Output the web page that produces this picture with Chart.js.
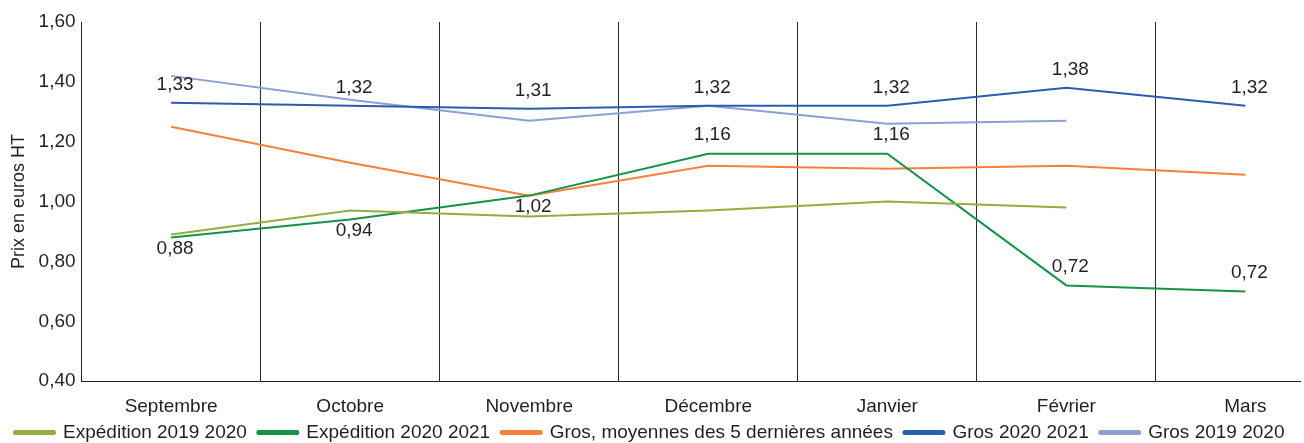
<!DOCTYPE html>
<html>
<head>
<meta charset="utf-8">
<script src="https://cdn.jsdelivr.net/npm/chart.js@4/dist/chart.umd.min.js"></script>
<style>
  html, body { margin: 0; padding: 0; background: #fff; overflow: hidden; }
  #wrap { position: relative; width: 1304px; height: 473px; }
</style>
</head>
<body>
<div id="wrap"><canvas id="prixChart"></canvas></div>
<script>
// mois de la campagne
var mois = ['Septembre', 'Octobre', 'Novembre', 'Décembre', 'Janvier', 'Février', 'Mars'];

// prix en euros HT
var expedition1920 = [0.89, 0.97, 0.95, 0.97, 1.00, 0.98, null];
var expedition2021 = [0.88, 0.94, 1.02, 1.16, 1.16, 0.72, 0.70];
var grosMoy5ans   = [1.25, 1.13, 1.02, 1.12, 1.11, 1.12, 1.09];
var gros2021      = [1.33, 1.32, 1.31, 1.32, 1.32, 1.38, 1.32];
var gros1920      = [1.42, 1.34, 1.27, 1.32, 1.26, 1.27, null];

// étiquettes affichées sur le graphe
var etiquettesExp2021  = ['0,88', '0,94', '1,02', '1,16', '1,16', '0,72', '0,72'];
var etiquettesGros2021 = ['1,33', '1,32', '1,31', '1,32', '1,32', '1,38', '1,32'];

var yTicks = [0.4, 0.6, 0.8, 1.0, 1.2, 1.4, 1.6];

var FONT = '"Liberation Sans", Arial, sans-serif';
var TXT = '#231f20';

function pts(arr) {
  return arr.map(function(v, i) { return { x: i, y: v }; });
}

function serie(label, arr, color, etiquettes) {
  return {
    label: label,
    data: pts(arr),
    borderColor: color,
    backgroundColor: color,
    borderWidth: 2,
    pointRadius: 0,
    tension: 0,
    etiquettes: etiquettes || null
  };
}

// placement des étiquettes de l'expédition 2020 2021 (dessous pour les 3 premiers mois)
var dessousExp = [true, true, true, false, false, false, false];

var etiquettesPlugin = {
  id: 'etiquettes',
  afterDatasetsDraw: function(chart) {
    var ctx = chart.ctx;
    ctx.save();
    ctx.font = '19px ' + FONT;
    ctx.fillStyle = TXT;
    ctx.textAlign = 'center';
    chart.data.datasets.forEach(function(ds, di) {
      if (!ds.etiquettes) return;
      var meta = chart.getDatasetMeta(di);
      meta.data.forEach(function(p, i) {
        var txt = ds.etiquettes[i];
        if (!txt) return;
        var dessous = ds.label === 'Expédition 2020 2021' && dessousExp[i];
        if (dessous) {
          ctx.textBaseline = 'top';
          ctx.fillText(txt, p.x + 4, p.y + 2);
        } else {
          ctx.textBaseline = 'bottom';
          ctx.fillText(txt, p.x + 4, p.y - 9);
        }
      });
    });
    ctx.restore();
  }
};

// remonte un peu la légende pour la rapprocher des mois
var legendeRemontee = {
  id: 'legendeRemontee',
  afterLayout: function(chart) {
    if (chart.legend) {
      chart.legend.top -= 21;
      chart.legend.bottom -= 21;
    }
  }
};

document.addEventListener('DOMContentLoaded', function() {
  var ctx = document.getElementById('prixChart').getContext('2d');
  new Chart(ctx, {
    type: 'line',
    data: {
      datasets: [
        serie('Expédition 2019 2020', expedition1920, '#94ad3f'),
        serie('Expédition 2020 2021', expedition2021, '#139447', etiquettesExp2021),
        serie('Gros, moyennes des 5 dernières années', grosMoy5ans, '#f5803a'),
        serie('Gros 2020 2021', gros2021, '#2b5dac', etiquettesGros2021),
        serie('Gros 2019 2020', gros1920, '#8c9fd6')
      ]
    },
    options: {
      responsive: true,
      maintainAspectRatio: false,
      animation: false,
      layout: { padding: { top: 22, right: 4, left: 0, bottom: 0 } },
      plugins: {
        tooltip: { enabled: false },
        legend: {
          position: 'bottom',
          labels: {
            usePointStyle: true,
            pointStyle: 'line',
            pointStyleWidth: 38,
            padding: 12,
            color: TXT,
            font: { family: FONT, size: 19 },
            generateLabels: function(chart) {
              var items = Chart.defaults.plugins.legend.labels.generateLabels(chart);
              items.forEach(function(it) {
                it.lineWidth = 5;
                it.lineCap = 'round';
              });
              return items;
            }
          }
        }
      },
      scales: {
        x: {
          type: 'linear',
          min: -0.5,
          max: 6.305,
          afterBuildTicks: function(scale) {
            var t = [];
            for (var i = 0; i < mois.length; i++) {
              t.push({ value: i });
              if (i < mois.length - 1) t.push({ value: i + 0.5 });
            }
            scale.ticks = t;
          },
          grid: {
            drawTicks: false,
            lineWidth: 1,
            color: function(c) {
              return (c.tick && Number.isInteger(c.tick.value)) ? 'rgba(0,0,0,0)' : '#2a2a2a';
            }
          },
          border: { display: true, color: '#222', width: 1 },
          ticks: {
            autoSkip: false,
            maxRotation: 0,
            padding: 14,
            color: TXT,
            font: { family: FONT, size: 19 },
            callback: function(v) {
              return Number.isInteger(v) ? mois[v] : '';
            }
          }
        },
        y: {
          min: 0.4,
          max: 1.6,
          afterBuildTicks: function(scale) {
            scale.ticks = yTicks.map(function(v) { return { value: v }; });
          },
          grid: { display: false, drawTicks: false },
          border: { display: true, color: '#222', width: 1 },
          title: {
            display: true,
            text: 'Prix en euros HT',
            color: TXT,
            font: { family: FONT, size: 18 },
            padding: { top: 8, bottom: 3 }
          },
          ticks: {
            padding: 6,
            color: TXT,
            font: { family: FONT, size: 19 },
            callback: function(v) {
              return v.toFixed(2).replace('.', ',');
            }
          }
        }
      }
    },
    plugins: [etiquettesPlugin, legendeRemontee]
  });
});
</script>
</body>
</html>
